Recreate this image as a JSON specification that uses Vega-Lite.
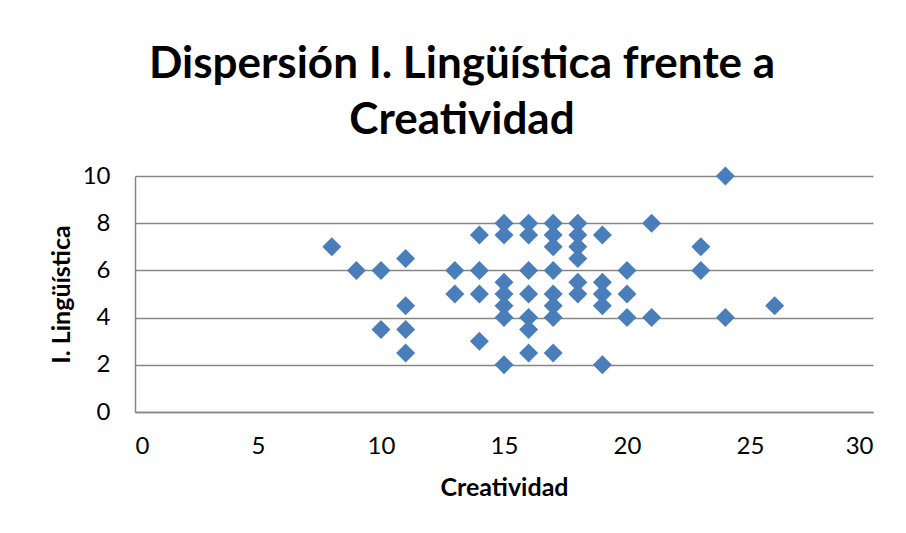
{
  "$schema": "https://vega.github.io/schema/vega-lite/v6.json",
  "width": 738,
  "height": 236,
  "autosize": {"type": "none"},
  "padding": {"left": 135, "top": 176, "right": 33, "bottom": 121},
  "background": "white",
  "title": {
    "text": ["Dispersión I. Lingüística frente a", "Creatividad"],
    "font": "Lato",
    "fontSize": 44,
    "fontWeight": "bold",
    "color": "#000000",
    "anchor": "middle",
    "dx": -42,
    "offset": 21,
    "lineHeight": 56
  },
  "config": {
    "view": {"stroke": null},
    "axis": {
      "labelFont": "Lato",
      "labelFontSize": 24,
      "labelColor": "#000000",
      "titleFont": "Lato",
      "titleFontSize": 25,
      "titleFontWeight": "bold",
      "titleColor": "#000000",
      "domainColor": "#868686",
      "domainWidth": 1.5,
      "gridColor": "#868686",
      "gridWidth": 1.5,
      "ticks": false
    }
  },
  "data": {
    "values": [
      {"Creatividad": 8, "Linguistica": 7},
      {"Creatividad": 9, "Linguistica": 6},
      {"Creatividad": 10, "Linguistica": 6},
      {"Creatividad": 10, "Linguistica": 3.5},
      {"Creatividad": 11, "Linguistica": 6.5},
      {"Creatividad": 11, "Linguistica": 4.5},
      {"Creatividad": 11, "Linguistica": 3.5},
      {"Creatividad": 11, "Linguistica": 2.5},
      {"Creatividad": 13, "Linguistica": 6},
      {"Creatividad": 13, "Linguistica": 5},
      {"Creatividad": 14, "Linguistica": 7.5},
      {"Creatividad": 14, "Linguistica": 6},
      {"Creatividad": 14, "Linguistica": 5},
      {"Creatividad": 14, "Linguistica": 3},
      {"Creatividad": 15, "Linguistica": 8},
      {"Creatividad": 15, "Linguistica": 7.5},
      {"Creatividad": 15, "Linguistica": 5.5},
      {"Creatividad": 15, "Linguistica": 5},
      {"Creatividad": 15, "Linguistica": 4.5},
      {"Creatividad": 15, "Linguistica": 4},
      {"Creatividad": 15, "Linguistica": 2},
      {"Creatividad": 16, "Linguistica": 8},
      {"Creatividad": 16, "Linguistica": 7.5},
      {"Creatividad": 16, "Linguistica": 6},
      {"Creatividad": 16, "Linguistica": 5},
      {"Creatividad": 16, "Linguistica": 4},
      {"Creatividad": 16, "Linguistica": 3.5},
      {"Creatividad": 16, "Linguistica": 2.5},
      {"Creatividad": 17, "Linguistica": 8},
      {"Creatividad": 17, "Linguistica": 7.5},
      {"Creatividad": 17, "Linguistica": 7},
      {"Creatividad": 17, "Linguistica": 6},
      {"Creatividad": 17, "Linguistica": 5},
      {"Creatividad": 17, "Linguistica": 4.5},
      {"Creatividad": 17, "Linguistica": 4},
      {"Creatividad": 17, "Linguistica": 2.5},
      {"Creatividad": 18, "Linguistica": 8},
      {"Creatividad": 18, "Linguistica": 7.5},
      {"Creatividad": 18, "Linguistica": 7},
      {"Creatividad": 18, "Linguistica": 6.5},
      {"Creatividad": 18, "Linguistica": 5.5},
      {"Creatividad": 18, "Linguistica": 5},
      {"Creatividad": 19, "Linguistica": 7.5},
      {"Creatividad": 19, "Linguistica": 5.5},
      {"Creatividad": 19, "Linguistica": 5},
      {"Creatividad": 19, "Linguistica": 4.5},
      {"Creatividad": 19, "Linguistica": 2},
      {"Creatividad": 20, "Linguistica": 6},
      {"Creatividad": 20, "Linguistica": 5},
      {"Creatividad": 20, "Linguistica": 4},
      {"Creatividad": 21, "Linguistica": 8},
      {"Creatividad": 21, "Linguistica": 4},
      {"Creatividad": 23, "Linguistica": 7},
      {"Creatividad": 23, "Linguistica": 6},
      {"Creatividad": 24, "Linguistica": 10},
      {"Creatividad": 24, "Linguistica": 4},
      {"Creatividad": 26, "Linguistica": 4.5}
    ]
  },
  "mark": {"type": "point", "shape": "diamond", "filled": true, "opacity": 1, "color": "#4a7ebb", "size": 361},
  "encoding": {
    "x": {
      "field": "Creatividad",
      "type": "quantitative",
      "title": "Creatividad",
      "scale": {"domain": [0, 30], "nice": false},
      "axis": {"values": [0, 5, 10, 15, 20, 25, 30], "grid": false, "labelPadding": 22, "titlePadding": 17}
    },
    "y": {
      "field": "Linguistica",
      "type": "quantitative",
      "title": "I. Lingüística",
      "scale": {"domain": [0, 10], "nice": false},
      "axis": {"values": [0, 2, 4, 6, 8, 10], "grid": true, "labelPadding": 25, "titlePadding": 8}
    }
  }
}
